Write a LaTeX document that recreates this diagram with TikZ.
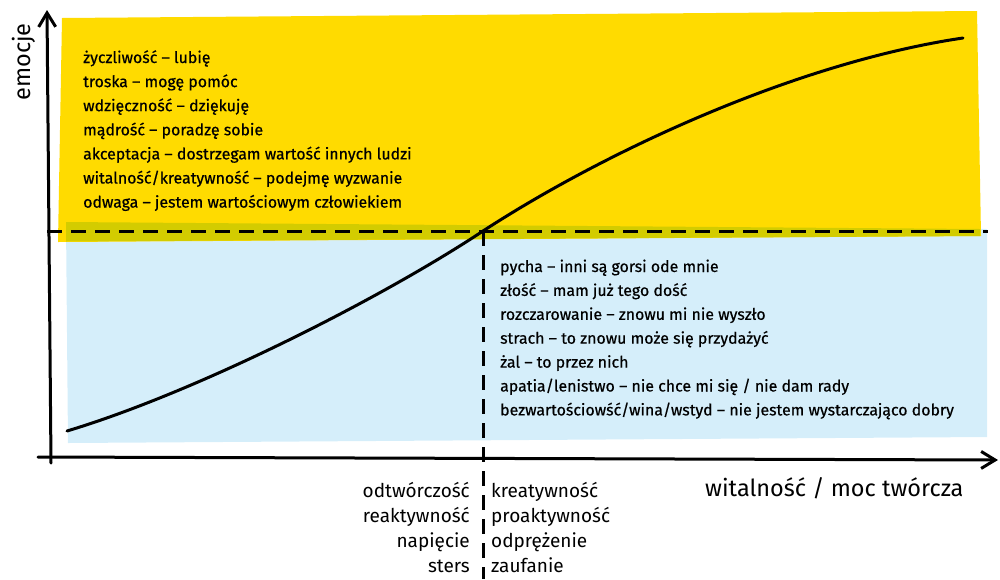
\documentclass[tikz,border=0pt]{standalone}
\usepackage{fontspec}
\setmainfont{Fira Sans}
\newfontfamily\handb[FakeBold=0.5]{Fira Sans}
\usetikzlibrary{arrows.meta}
\definecolor{ylw}{HTML}{FFDB00}
\definecolor{lblue}{HTML}{D5EEFA}
\definecolor{olive}{HTML}{D3CC00}
\tikzset{
  axis/.style={line width=3pt, line cap=round, -{Straight Barb[length=14pt,width=17pt,line width=3pt]}},
  dashline/.style={line width=3pt, dash pattern=on 15pt off 9pt},
  curveline/.style={line width=3pt, line cap=round},
  txt/.style={anchor=base west, inner sep=0pt, font=\handb\fontsize{15.9}{18}\selectfont},
  lbl/.style={inner sep=0pt, font=\fontsize{19}{22}\selectfont},
  axlbl/.style={inner sep=0pt, font=\fontsize{23.5}{26}\selectfont}
}
\begin{document}
\begin{tikzpicture}[x=1pt,y=-1pt]
\useasboundingbox (0,0) rectangle (1000,579);
% backgrounds
\fill[lblue] (66,222) -- (987,229) -- (987,437) -- (68,443) -- cycle;
\fill[ylw] (62,18) -- (977,11) -- (981,236) -- (58,242) -- cycle;
\fill[olive] (66,222) -- (980,229) -- (980,236) -- (66,241.5) -- cycle;
% coordinates
\coordinate (ybot) at (51,463);
\coordinate (ytop) at (47,10);
\coordinate (xl) at (38,457);
\coordinate (xr) at (998,460);
\coordinate (hl) at (47,231);
\coordinate (hr) at (988,231);
\coordinate (c) at (483,231);
\coordinate (vb) at (483,579);
\coordinate (cs) at (67,431);
\coordinate (ce) at (963,38);
% axes
\draw[axis] (ybot) -- (ytop);
\draw[axis] (xl) -- (xr);
% dashed lines
\draw[dashline] (hl) -- (hr);
\draw[dashline] (c) -- (vb);
% curve
\draw[curveline] (cs) .. controls (200,391) and (385,296) .. (c)
   .. controls (610,148.5) and (800,62) .. (ce);
% upper text
\foreach \t [count=\i] in {życzliwość – lubię, troska – mogę pomóc, wdzięczność – dziękuję, mądrość – poradzę sobie, akceptacja – dostrzegam wartość innych ludzi, witalność/kreatywność – podejmę wyzwanie, odwaga – jestem wartościowym człowiekiem}
  \node[txt] (u\i) at (83,{63+(\i-1)*24.1}) {\t};
% lower text
\foreach \t [count=\i] in {pycha – inni są gorsi ode mnie, złość – mam już tego dość, rozczarowanie – znowu mi nie wyszło, strach – to znowu może się przydażyć, żal – to przez nich, apatia/lenistwo – nie chce mi się / nie dam rady, bezwartościowść/wina/wstyd – nie jestem wystarczająco dobry}
  \node[txt] (d\i) at (500,{272+(\i-1)*23.9}) {\t};
% bottom labels
\foreach \a/\b [count=\i] in {odtwórczość/kreatywność, reaktywność/proaktywność, napięcie/odprężenie, sters/zaufanie}{
  \node[lbl, anchor=base east] (bl\i) at (470,{497+(\i-1)*25.3}) {\a};
  \node[lbl, anchor=base west] (br\i) at (491,{497+(\i-1)*25.3}) {\b};
}
% axis labels
\node[axlbl, anchor=base west] (xlab) at (705,496) {witalność / moc twórcza};
\node[axlbl, rotate=90, anchor=base] (ylab) at (30,62) {emocje};
\end{tikzpicture}
\end{document}
